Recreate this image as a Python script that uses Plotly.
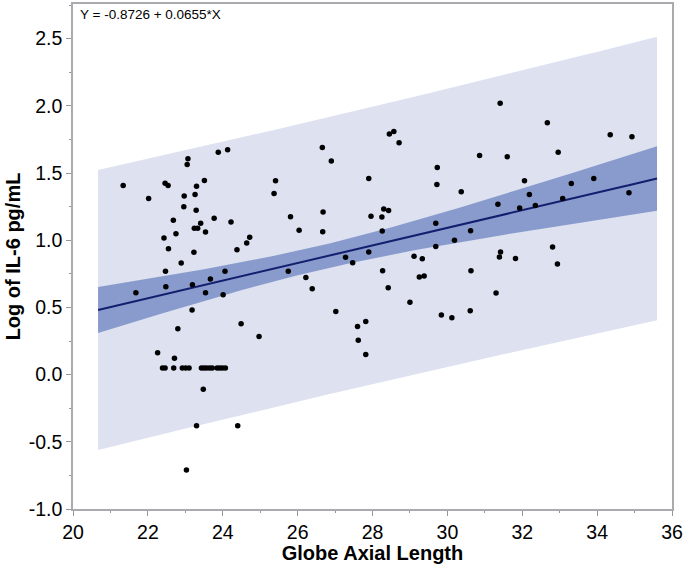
import numpy as np
import plotly.graph_objects as go

# Globe axial length (mm) vs log IL-6
axial_length = [
    21.34, 22.02, 22.46, 22.54, 23.07, 23.05, 23.88, 24.13, 23.30, 23.51,
    22.97, 23.26, 22.96, 23.29, 22.68, 23.77, 24.22, 23.41, 23.24, 23.33,
    23.54, 22.75, 22.43, 24.72, 24.64, 22.55, 23.23, 24.38, 22.89, 22.47,
    24.06, 23.67,
    21.68, 22.48, 23.19, 23.54, 24.01, 23.18, 22.80, 24.49, 24.97, 22.26,
    22.71, 22.39, 22.46, 22.69, 22.92, 23.01, 23.10, 23.43, 23.50, 23.57,
    23.65, 23.72, 23.85, 23.92, 23.99, 24.07, 23.48, 23.30, 24.40, 23.03,
    26.22, 26.39, 27.02, 27.60, 27.62, 25.75,
    25.37, 25.41, 25.81, 26.04, 26.66, 26.90, 26.68, 26.67, 27.28, 27.47,
    31.41, 32.67, 34.35, 34.93, 28.45, 28.57, 28.71, 30.86, 31.60, 32.96,
    29.73, 29.72, 27.90, 32.06, 33.31, 33.91, 32.19, 30.37, 34.85, 33.08,
    31.35, 31.93, 32.35, 28.30, 28.43, 27.96, 28.25, 28.26, 29.69, 30.62,
    30.19, 29.69, 27.90, 32.81, 31.42, 31.39, 31.82, 32.94, 29.11, 29.33,
    28.27, 30.63, 29.25, 29.38,
    28.42, 31.30, 29.00, 29.84, 30.12, 30.61, 27.82, 27.82,
]
log_il6 = [
    1.407, 1.311, 1.424, 1.407, 1.607, 1.563, 1.654, 1.674, 1.402, 1.444,
    1.330, 1.341, 1.249, 1.224, 1.148, 1.163, 1.136, 1.126, 1.089, 1.089,
    1.061, 1.049, 1.017, 1.022, 0.980, 0.936, 0.911, 0.930, 0.830, 0.770,
    0.770, 0.712,
    0.610, 0.654, 0.669, 0.610, 0.595, 0.481, 0.341, 0.378, 0.284, 0.163,
    0.121, 0.049, 0.049, 0.049, 0.049, 0.049, 0.049, 0.049, 0.049, 0.049,
    0.049, 0.049, 0.049, 0.049, 0.049, 0.049, -0.109, -0.381, -0.381, -0.709,
    0.723, 0.639, 0.469, 0.358, 0.256, 0.770,
    1.348, 1.442, 1.175, 1.074, 1.691, 1.590, 1.210, 1.064, 0.874, 0.832,
    2.019, 1.874, 1.785, 1.770, 1.790, 1.810, 1.726, 1.630, 1.622, 1.654,
    1.541, 1.415, 1.459, 1.442, 1.422, 1.459, 1.341, 1.360, 1.353, 1.311,
    1.267, 1.239, 1.259, 1.232, 1.222, 1.178, 1.173, 1.069, 1.126, 1.071,
    1.000, 0.953, 0.913, 0.950, 0.913, 0.876, 0.864, 0.824, 0.881, 0.862,
    0.773, 0.773, 0.726, 0.733,
    0.647, 0.607, 0.538, 0.444, 0.424, 0.476, 0.395, 0.150,
]

y_ticks = [-1.0, -0.5, 0.0, 0.5, 1.0, 1.5, 2.0, 2.5]
y_ticklabels = ["-1.0", "-0.5", "0.0", "0.5", "1.0", "1.5", "2.0", "2.5"]

# fitted line as reported on the chart
intercept = -0.8726
slope = 0.0655
fit_range = [20.67, 35.6]
t_crit = 1.979

x = np.array(axial_length)
y = np.array(log_il6)
n = len(x)
resid = y - (intercept + slope * x)
s = np.sqrt(np.sum(resid ** 2) / (n - 2))
sxx = np.sum((x - x.mean()) ** 2)

xf = np.linspace(fit_range[0], fit_range[1], 100)
yf = intercept + slope * xf
se_mean = s * np.sqrt(1 / n + (xf - x.mean()) ** 2 / sxx)
se_pred = s * np.sqrt(1 + 1 / n + (xf - x.mean()) ** 2 / sxx)

fig = go.Figure()
# prediction band
fig.add_trace(go.Scatter(
    x=np.concatenate([xf, xf[::-1]]),
    y=np.concatenate([yf + t_crit * se_pred, (yf - t_crit * se_pred)[::-1]]),
    fill="toself", fillcolor="rgb(221,225,240)", line=dict(width=0),
    mode="lines", hoverinfo="skip", showlegend=False,
))
# confidence band
fig.add_trace(go.Scatter(
    x=np.concatenate([xf, xf[::-1]]),
    y=np.concatenate([yf + t_crit * se_mean, (yf - t_crit * se_mean)[::-1]]),
    fill="toself", fillcolor="rgb(137,155,204)", line=dict(width=0),
    mode="lines", hoverinfo="skip", showlegend=False,
))
fig.add_trace(go.Scatter(
    x=xf, y=yf, mode="lines", line=dict(color="rgb(20,30,110)", width=2),
    showlegend=False,
))
fig.add_trace(go.Scatter(
    x=axial_length, y=log_il6, mode="markers",
    marker=dict(color="black", size=5.5), showlegend=False,
))

fig.add_annotation(
    x=0.008, y=0.998, xref="paper", yref="paper", xanchor="left", yanchor="top",
    text="Y = -0.8726 + 0.0655*X", showarrow=False,
    font=dict(size=13.5, color="black"),
)

axis_common = dict(
    showgrid=False, zeroline=False, showline=True, linecolor="rgb(170,170,175)",
    linewidth=1.5, mirror=True, ticks="outside", ticklen=5, tickwidth=1,
    tickcolor="rgb(150,150,155)", tickfont=dict(size=19.5, color="black"),
)
fig.update_xaxes(
    range=[20, 36], dtick=2, tick0=20,
    title=dict(text="<b>Globe Axial Length</b>", font=dict(size=20, color="black"),
               standoff=1),
    minor=dict(ticks="outside", ticklen=2.5, dtick=1, tickcolor="rgb(150,150,155)"),
    **axis_common,
)
fig.update_yaxes(
    range=[-1.0, 2.758], tickvals=y_ticks, ticktext=y_ticklabels,
    title=dict(text="<b>Log of IL-6 pg/mL</b>", font=dict(size=20, color="black"),
               standoff=3),
    minor=dict(ticks="outside", ticklen=2.5, dtick=0.25, tickcolor="rgb(150,150,155)"),
    **axis_common,
)
fig.update_layout(
    width=685, height=564,
    margin=dict(l=73, r=13, t=2, b=55),
    plot_bgcolor="white", paper_bgcolor="white",
    font=dict(family="Liberation Sans, Arial, sans-serif"),
)
fig.write_html("out.html", config={"displayModeBar": False},
               post_script="document.body.style.margin='0';")
